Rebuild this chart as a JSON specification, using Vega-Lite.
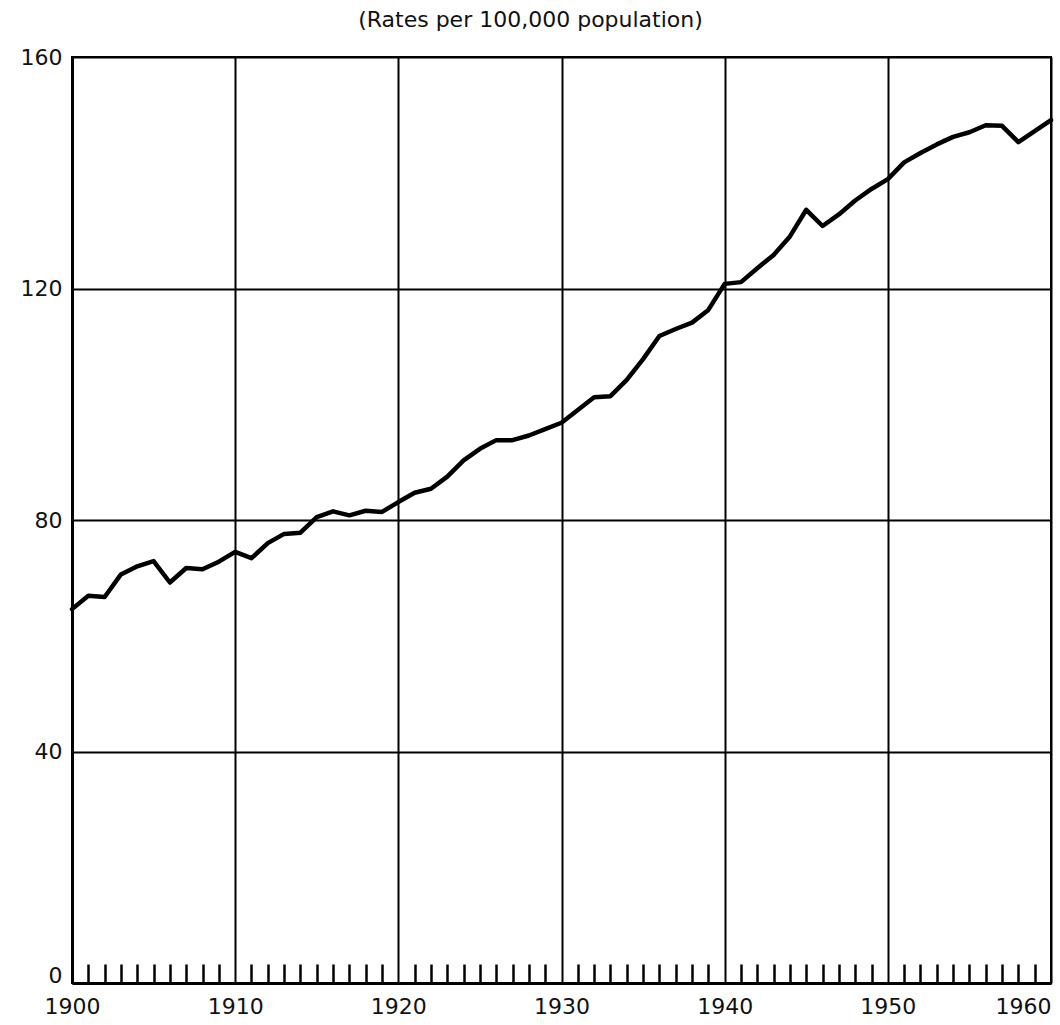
{
  "$schema": "https://vega.github.io/schema/vega-lite/v6.json",
  "width": 979,
  "height": 926,
  "autosize": {"type": "none"},
  "padding": {"left": 72, "top": 57, "right": 9, "bottom": 42},
  "background": "white",
  "title": {
    "text": "(Rates per 100,000 population)",
    "font": "DejaVu Sans",
    "fontSize": 22,
    "fontWeight": "normal",
    "color": "#111",
    "anchor": "middle",
    "dx": -31,
    "offset": 14
  },
  "config": {
    "view": {"stroke": "black", "strokeWidth": 2},
    "axis": {
      "labelFont": "DejaVu Sans",
      "labelFontSize": 22,
      "labelColor": "#111",
      "gridColor": "black",
      "domainColor": "black",
      "tickColor": "black"
    }
  },
  "data": {
    "values": [
      {"year": 1900, "rate": 64.6},
      {"year": 1901, "rate": 66.9},
      {"year": 1902, "rate": 66.7},
      {"year": 1903, "rate": 70.6},
      {"year": 1904, "rate": 72.0},
      {"year": 1905, "rate": 72.9},
      {"year": 1906, "rate": 69.2},
      {"year": 1907, "rate": 71.7},
      {"year": 1908, "rate": 71.5},
      {"year": 1909, "rate": 72.8},
      {"year": 1910, "rate": 74.5},
      {"year": 1911, "rate": 73.4},
      {"year": 1912, "rate": 76.0},
      {"year": 1913, "rate": 77.6},
      {"year": 1914, "rate": 77.8},
      {"year": 1915, "rate": 80.5},
      {"year": 1916, "rate": 81.5},
      {"year": 1917, "rate": 80.8},
      {"year": 1918, "rate": 81.6},
      {"year": 1919, "rate": 81.4},
      {"year": 1920, "rate": 83.1},
      {"year": 1921, "rate": 84.7},
      {"year": 1922, "rate": 85.4},
      {"year": 1923, "rate": 87.5},
      {"year": 1924, "rate": 90.3},
      {"year": 1925, "rate": 92.3},
      {"year": 1926, "rate": 93.8},
      {"year": 1927, "rate": 93.8},
      {"year": 1928, "rate": 94.6},
      {"year": 1929, "rate": 95.7},
      {"year": 1930, "rate": 96.8},
      {"year": 1931, "rate": 99.0},
      {"year": 1932, "rate": 101.2},
      {"year": 1933, "rate": 101.4},
      {"year": 1934, "rate": 104.2},
      {"year": 1935, "rate": 107.8},
      {"year": 1936, "rate": 111.8},
      {"year": 1937, "rate": 113.0},
      {"year": 1938, "rate": 114.1},
      {"year": 1939, "rate": 116.3},
      {"year": 1940, "rate": 120.8},
      {"year": 1941, "rate": 121.1},
      {"year": 1942, "rate": 123.5},
      {"year": 1943, "rate": 125.8},
      {"year": 1944, "rate": 129.0},
      {"year": 1945, "rate": 133.6},
      {"year": 1946, "rate": 130.8},
      {"year": 1947, "rate": 132.8},
      {"year": 1948, "rate": 135.2},
      {"year": 1949, "rate": 137.2},
      {"year": 1950, "rate": 138.9},
      {"year": 1951, "rate": 141.8},
      {"year": 1952, "rate": 143.4},
      {"year": 1953, "rate": 144.9},
      {"year": 1954, "rate": 146.2},
      {"year": 1955, "rate": 147.0},
      {"year": 1956, "rate": 148.2},
      {"year": 1957, "rate": 148.1},
      {"year": 1958, "rate": 145.3},
      {"year": 1959, "rate": 147.2},
      {"year": 1960, "rate": 149.1}
    ]
  },
  "mark": {"type": "line", "color": "black", "strokeWidth": 4.5, "strokeJoin": "round", "strokeCap": "round"},
  "encoding": {
    "x": {
      "field": "year",
      "type": "quantitative",
      "scale": {"domain": [1900, 1960], "nice": false, "zero": false},
      "axis": {
        "title": null,
        "values": [1900, 1901, 1902, 1903, 1904, 1905, 1906, 1907, 1908, 1909, 1910, 1911, 1912, 1913, 1914, 1915, 1916, 1917, 1918, 1919, 1920, 1921, 1922, 1923, 1924, 1925, 1926, 1927, 1928, 1929, 1930, 1931, 1932, 1933, 1934, 1935, 1936, 1937, 1938, 1939, 1940, 1941, 1942, 1943, 1944, 1945, 1946, 1947, 1948, 1949, 1950, 1951, 1952, 1953, 1954, 1955, 1956, 1957, 1958, 1959, 1960],
        "labelExpr": "datum.value % 10 == 0 ? format(datum.value, 'd') : ''",
        "labelAlign": {"condition": {"test": "datum.value == 1960", "value": "right"}, "value": "center"},
        "labelPadding": 32,
        "labelOverlap": false,
        "labelBound": false,
        "grid": true,
        "gridWidth": 2,
        "gridOpacity": {"condition": {"test": "datum.value % 10 == 0", "value": 1}, "value": 0},
        "ticks": true,
        "tickSize": -19,
        "tickWidth": 2.5,
        "tickOpacity": {"condition": {"test": "datum.value % 10 == 0", "value": 0}, "value": 1},
        "domain": true,
        "domainWidth": 3
      }
    },
    "y": {
      "field": "rate",
      "type": "quantitative",
      "scale": {"domain": [0, 160], "nice": false},
      "axis": {
        "title": null,
        "values": [0, 40, 80, 120, 160],
        "grid": true,
        "gridWidth": 2,
        "ticks": false,
        "labelPadding": 10,
        "labelOffset": {"condition": {"test": "datum.value == 0", "value": -8}, "value": 0},
        "domain": true,
        "domainWidth": 3
      }
    }
  }
}
